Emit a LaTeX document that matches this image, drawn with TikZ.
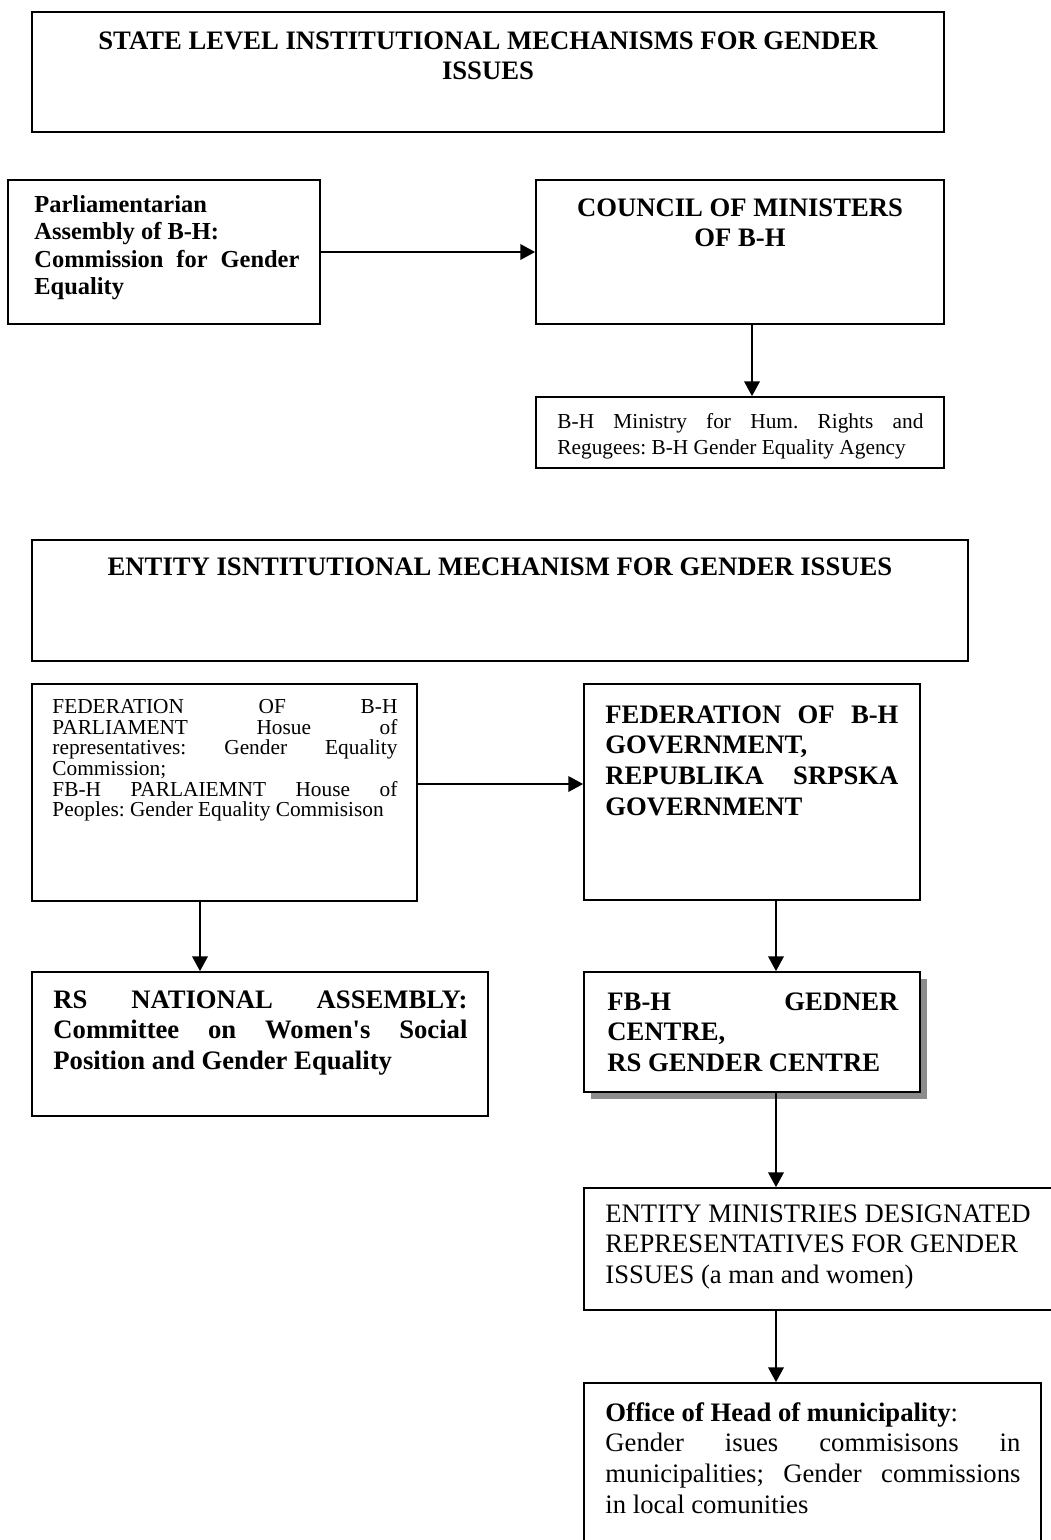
\documentclass[tikz,border=0pt]{standalone}
\usepackage{fontspec}
\setmainfont{Liberation Serif}
\usetikzlibrary{arrows.meta,fit}
\begin{document}
\frenchspacing
\begin{tikzpicture}[x=0.45pt,y=-0.45pt,
  box/.style={draw, line width=0.8pt, inner sep=0pt, fill=white},
  arr/.style={-{Triangle[length=6.6pt,width=7pt]}, line width=0.6pt},
  txt/.style={anchor=north west, inner sep=0pt, align=justify},
  ctxt/.style={anchor=north, inner sep=0pt, align=center},
  ltxt/.style={anchor=north west, inner sep=0pt, align=left},
  fb12/.style={font=\fontsize{12pt}{13.8pt}\selectfont\bfseries},
  fr12/.style={font=\fontsize{12pt}{13.8pt}\selectfont},
  fb11/.style={font=\fontsize{11pt}{12.3pt}\selectfont\bfseries},
  fsmall/.style={font=\fontsize{9.6pt}{9.3pt}\selectfont},
  fmin/.style={font=\fontsize{9.6pt}{11.7pt}\selectfont}
]
\useasboundingbox (0,0) rectangle (1051,1540);
\fill[white] (0,0) rectangle (1051,1540);

% boxes
\node[box, fit={(32,12)(944,132)}] (top) {};
\node[box, fit={(8,180)(320,324)}] (parl) {};
\node[box, fit={(536,180)(944,324)}] (council) {};
\node[box, fit={(536,397)(944,468)}] (ministry) {};
\node[box, fit={(32,540)(968,661)}] (entity) {};
\node[box, fit={(32,684)(417,901)}] (fedparl) {};
\node[box, fit={(584,684)(920,900)}] (fedgov) {};
\node[box, fit={(32,972)(488,1116)}] (rsnat) {};
\fill[gray!90] (591,979) rectangle (927,1099);
\node[box, fit={(584,972)(920,1092)}] (gender) {};
\node[box, fit={(584,1188)(1060,1310)}] (entmin) {};
\node[box, fit={(584,1383)(1041,1560)}] (office) {};

% texts
\node[ctxt, fb12] (ttop) at (488,31) {STATE LEVEL INSTITUTIONAL MECHANISMS FOR GENDER\\ISSUES};
\node[txt, fb11, text width=119.25pt] (tparl) at (34,195) {Parliamentarian\newline Assembly of B-H:\newline Commission for Gender\linebreak Equality};
\node[ctxt, fb12] (tcouncil) at (740,198) {COUNCIL OF MINISTERS\\OF B-H};
\node[txt, fmin, text width=164.7pt] (tministry) at (557,413) {B-H Ministry for Hum. Rights and\linebreak Regugees: B-H Gender Equality Agency};
\node[ctxt, fb12] (tentity) at (500,557) {ENTITY ISNTITUTIONAL MECHANISM FOR GENDER ISSUES};
\node[txt, fsmall, text width=155.25pt] (tfedparl) at (52,699) {FEDERATION OF B-H\linebreak PARLIAMENT Hosue of\linebreak representatives: Gender Equality\linebreak Commission;\newline FB-H PARLAIEMNT House of\linebreak Peoples: Gender Equality Commisison};
\node[txt, fb12, text width=131.85pt] (tfedgov) at (605,705) {FEDERATION OF B-H\linebreak GOVERNMENT,\newline REPUBLIKA SRPSKA\linebreak GOVERNMENT};
\node[txt, fb12, text width=186.3pt] (trsnat) at (53,990) {RS NATIONAL ASSEMBLY:\linebreak Committee on Women\textquotesingle s Social\linebreak Position and Gender Equality};
\node[txt, fb12, text width=130.95pt] (tgender) at (607,992) {FB-H GEDNER\linebreak CENTRE,\newline RS GENDER CENTRE};
\node[ltxt, fr12] (tentmin) at (605,1204) {ENTITY MINISTRIES DESIGNATED\\REPRESENTATIVES FOR GENDER\\ISSUES (a man and women)};
\node[txt, fr12, text width=186.75pt] (toffice) at (605,1402) {\textbf{Office of Head of municipality}:\newline Gender isues commisisons in\linebreak municipalities; Gender commissions\linebreak in local comunities};

% connectors
\coordinate (xa) at (752,0);
\coordinate (yb) at (0,784);
\coordinate (xb) at (200,0);
\coordinate (xc) at (776,0);
\draw[arr] (parl.east) -- (council.west);
\draw[arr] (council.south -| xa) -- (ministry.north -| xa);
\draw[arr] (fedparl.east |- yb) -- (fedgov.west |- yb);
\draw[arr] (fedparl.south -| xb) -- (rsnat.north -| xb);
\draw[arr] (fedgov.south -| xc) -- (gender.north -| xc);
\draw[arr] (gender.south -| xc) -- (entmin.north -| xc);
\draw[arr] (entmin.south -| xc) -- (office.north -| xc);
\end{tikzpicture}
\end{document}
